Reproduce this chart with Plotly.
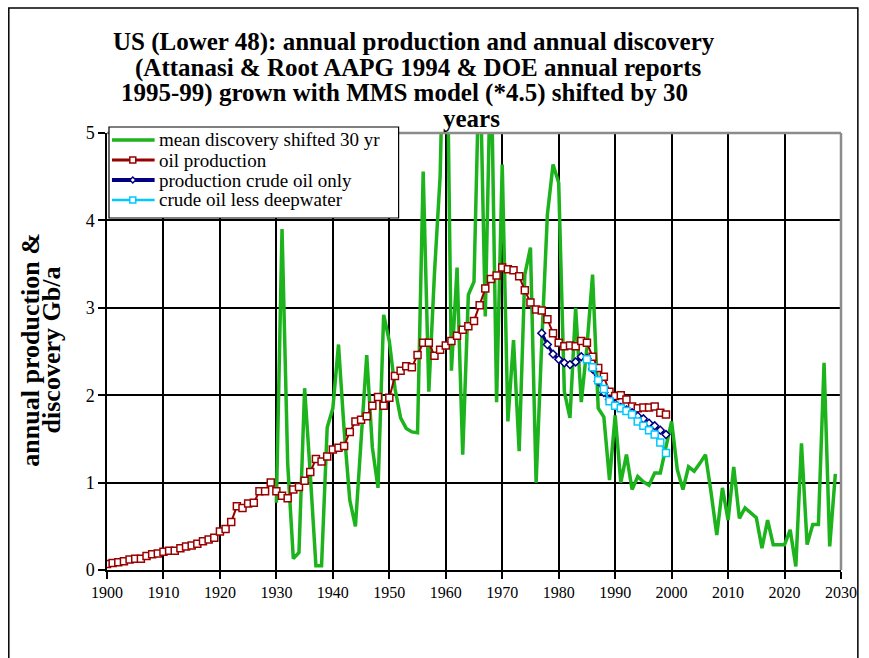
import plotly.graph_objects as go

# ---- data -------------------------------------------------------------
years_prod = list(range(1900, 2000))
oil_production = [
    0.07, 0.08, 0.09, 0.10, 0.12, 0.13, 0.13, 0.16, 0.18, 0.19,
    0.21, 0.22, 0.22, 0.25, 0.27, 0.28, 0.30, 0.33, 0.35, 0.37,
    0.44, 0.47, 0.55, 0.73, 0.71, 0.76, 0.77, 0.90, 0.90, 1.00,
    0.90, 0.85, 0.82, 0.92, 0.95, 1.02, 1.12, 1.27, 1.24, 1.30,
    1.38, 1.40, 1.42, 1.58, 1.70, 1.72, 1.76, 1.88, 1.98, 1.88,
    1.97, 2.22, 2.28, 2.33, 2.32, 2.46, 2.60, 2.60, 2.45, 2.52,
    2.57, 2.62, 2.68, 2.75, 2.79, 2.85, 3.03, 3.22, 3.33, 3.37,
    3.46, 3.44, 3.43, 3.36, 3.20, 3.06, 2.98, 2.97, 2.87, 2.71,
    2.60, 2.56, 2.57, 2.56, 2.62, 2.60, 2.44, 2.31, 2.21, 2.04,
    1.99, 2.00, 1.95, 1.87, 1.85, 1.86, 1.86, 1.87, 1.80, 1.78,
]

years_disc = list(range(1930, 2030))
discovery_shifted = [
    0.77, 3.90, 1.22, 0.13, 0.20, 2.08, 1.10, 0.05, 0.05, 1.63,
    1.85, 2.58, 1.60, 0.80, 0.50, 1.50, 2.46, 1.40, 0.94, 2.92,
    2.62, 2.08, 1.74, 1.62, 1.58, 1.57, 4.56, 2.04, 3.40, 4.50,
    7.30, 2.28, 3.46, 1.32, 3.15, 3.30, 6.00, 2.90, 6.00, 1.92,
    4.64, 1.70, 2.63, 1.36, 3.38, 3.69, 1.00, 2.60, 4.07, 4.64,
    4.43, 2.04, 1.74, 3.00, 1.92, 2.55, 3.38, 1.85, 1.75, 1.03,
    1.77, 1.00, 1.32, 0.92, 1.07, 1.01, 0.97, 1.11, 1.11, 1.41,
    1.70, 1.15, 0.92, 1.18, 1.13, 1.22, 1.32, 0.88, 0.40, 0.94,
    0.57, 1.18, 0.59, 0.71, 0.65, 0.60, 0.25, 0.57, 0.29, 0.29,
    0.29, 0.46, 0.04, 1.45, 0.29, 0.52, 0.52, 2.37, 0.27, 1.10,
]

years_crude = list(range(1977, 2000))
crude_only = [
    2.71, 2.58, 2.47, 2.41, 2.37, 2.35, 2.38, 2.44, 2.42, 2.30,
    2.16, 2.03, 1.95, 1.90, 1.86, 1.83, 1.80, 1.76, 1.73, 1.68,
    1.65, 1.60, 1.55,
]

years_less_deep = list(range(1985, 2000))
crude_less_deepwater = [
    2.41, 2.32, 2.17, 2.07, 1.93, 1.88, 1.85, 1.82, 1.78, 1.70,
    1.65, 1.60, 1.55, 1.46, 1.34,
]

x_ticks = list(range(1900, 2031, 10))
y_ticks = [0, 1, 2, 3, 4, 5]

series_names = [
    "mean discovery shifted 30 yr",
    "oil production",
    "production crude oil only",
    "crude oil less deepwater",
]
title_lines = [
    "US (Lower 48): annual production and annual discovery",
    "(Attanasi & Root AAPG 1994 & DOE annual reports",
    "1995-99) grown with MMS model (*4.5) shifted by 30",
    "years",
]
ytitle_lines = ["annual production &", "discovery Gb/a"]

# ---- styling ----------------------------------------------------------
GREEN = "#1db31d"
RED = "#990000"
NAVY = "#000080"
CYAN = "#00c8ff"
FONT = "Times New Roman, Liberation Serif, DejaVu Serif, serif"

W, H = 869, 658
L, R, T, B = 107, 847, 133, 570


def px(x):
    return (x - L) / (R - L)


def py(y):
    return (B - y) / (B - T)


fig = go.Figure()

fig.add_trace(go.Scatter(
    x=years_disc, y=discovery_shifted, mode="lines",
    line=dict(color=GREEN, width=3.5), name=series_names[0],
))
fig.add_trace(go.Scatter(
    x=years_prod, y=oil_production, mode="lines+markers",
    line=dict(color=RED, width=2),
    marker=dict(symbol="square", size=7, color="white",
                line=dict(color=RED, width=1.5)),
    name=series_names[1],
))
fig.add_trace(go.Scatter(
    x=years_crude, y=crude_only, mode="lines+markers",
    line=dict(color=NAVY, width=3),
    marker=dict(symbol="diamond", size=6, color="white",
                line=dict(color=NAVY, width=1.5)),
    name=series_names[2],
))
fig.add_trace(go.Scatter(
    x=years_less_deep, y=crude_less_deepwater, mode="lines+markers",
    line=dict(color=CYAN, width=2),
    marker=dict(symbol="square", size=7, color="white",
                line=dict(color=CYAN, width=1.5)),
    name=series_names[3],
))

shapes = []
# outer chart frame
shapes.append(dict(type="rect", xref="paper", yref="paper",
                   x0=px(8), x1=px(864), y0=py(662), y1=py(8),
                   line=dict(color="black", width=1.5), layer="below"))
# grey plot-area border on top and right
shapes.append(dict(type="line", xref="paper", yref="paper",
                   x0=0, x1=1, y0=1, y1=1,
                   line=dict(color="#8c8c8c", width=2.5)))
shapes.append(dict(type="line", xref="paper", yref="paper",
                   x0=1, x1=1, y0=0, y1=1,
                   line=dict(color="#8c8c8c", width=2.5)))

# legend box
shapes.append(dict(type="rect", xref="paper", yref="paper",
                   x0=px(109), x1=px(401), y0=py(218), y1=py(127),
                   line=dict(color="black", width=1.2), fillcolor="white"))

legend_rows = [140, 160, 180, 200]
legend_styles = [
    (GREEN, 3.5, None),
    (RED, 3, "square"),
    (NAVY, 4, "diamond"),
    (CYAN, 2.5, "square"),
]
annotations = []
for row, (color, width, mk), name in zip(legend_rows, legend_styles, series_names):
    shapes.append(dict(type="line", xref="paper", yref="paper",
                       x0=px(112), x1=px(155), y0=py(row), y1=py(row),
                       line=dict(color=color, width=width)))
    if mk == "square":
        shapes.append(dict(type="rect", xref="paper", yref="paper",
                           x0=px(130), x1=px(136), y0=py(row + 3), y1=py(row - 3),
                           line=dict(color=color, width=1.5), fillcolor="white"))
    elif mk == "diamond":
        cx, cy = 133, row
        path = "M {} {} L {} {} L {} {} L {} {} Z".format(
            px(cx - 3), py(cy), px(cx), py(cy - 3),
            px(cx + 3), py(cy), px(cx), py(cy + 3))
        shapes.append(dict(type="path", xref="paper", yref="paper", path=path,
                           line=dict(color=color, width=1.5), fillcolor="white"))
    annotations.append(dict(
        x=px(157), y=py(row), xref="paper", yref="paper",
        xanchor="left", yanchor="middle", showarrow=False,
        text=name, font=dict(family=FONT, size=19, color="black"),
    ))

# chart title, one annotation per line
title_pos = [(417, 42), (421, 68), (407, 93), (474, 118)]
for (cx, cy), line in zip(title_pos, title_lines):
    annotations.append(dict(
        x=px(cx), y=py(cy), xref="paper", yref="paper",
        xanchor="center", yanchor="middle", showarrow=False,
        text="<b>" + line + "</b>",
        font=dict(family=FONT, size=25, color="black"),
    ))

# rotated y-axis title
for cx, line in zip([29, 51], ytitle_lines):
    annotations.append(dict(
        x=px(cx), y=py(350), xref="paper", yref="paper",
        xanchor="center", yanchor="middle", showarrow=False, textangle=-90,
        text="<b>" + line + "</b>",
        font=dict(family=FONT, size=26, color="black"),
    ))

axis_common = dict(
    showgrid=True, gridcolor="black", gridwidth=1.5,
    showline=True, linecolor="black", linewidth=1.5,
    ticks="outside", ticklen=7, tickcolor="black", tickwidth=1.5,
    zeroline=False, fixedrange=True,
)

fig.update_layout(
    width=W, height=H,
    margin=dict(l=L, r=W - R, t=T, b=H - B, pad=0),
    paper_bgcolor="white", plot_bgcolor="white",
    showlegend=False,
    font=dict(family=FONT),
    shapes=shapes, annotations=annotations,
    xaxis=dict(range=[1900, 2030], tickvals=x_ticks,
               ticktext=[str(v) for v in x_ticks],
               tickfont=dict(family=FONT, size=16, color="black"),
               **axis_common),
    yaxis=dict(range=[0, 5], tickvals=y_ticks,
               ticktext=[str(v) for v in y_ticks],
               tickfont=dict(family=FONT, size=18, color="black"),
               **axis_common),
)

fig.write_html("out.html")
